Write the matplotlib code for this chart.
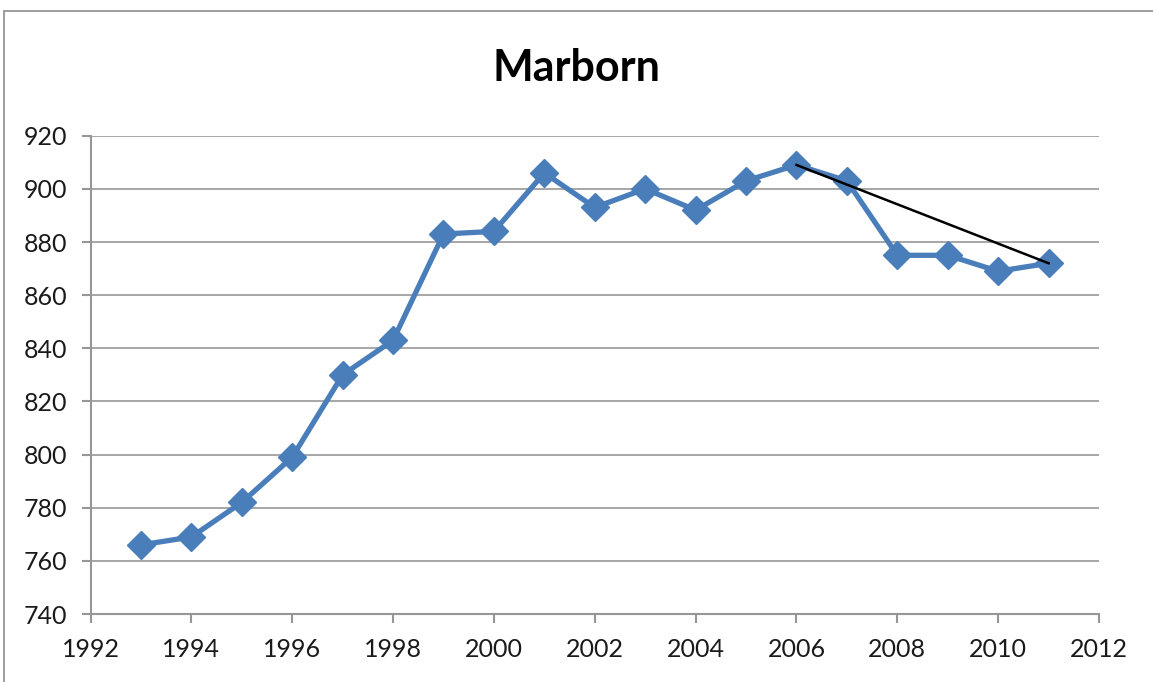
import matplotlib.pyplot as plt
import matplotlib.patches as mpatches

anos = [1993, 1994, 1995, 1996, 1997, 1998, 1999, 2000, 2001, 2002,
        2003, 2004, 2005, 2006, 2007, 2008, 2009, 2010, 2011]
valores = [766, 769, 782, 799, 830, 843, 883, 884, 906, 893,
           900, 892, 903, 909, 903, 875, 875, 869, 872]

# linha de tendência desenhada à mão (2006 -> 2011)
tendencia_x = [2006, 2011]
tendencia_y = [909, 872]

x_ticks = list(range(1992, 2013, 2))
y_ticks = list(range(740, 921, 20))

plt.rcParams['font.family'] = ['Lato', 'DejaVu Sans']

fig = plt.figure(figsize=(11.53, 6.82), dpi=100)
ax = fig.add_axes([0.0785, 0.0997, 0.8747, 0.7013])

# moldura externa (estilo Excel)
fig.patches.append(mpatches.Rectangle((4 / 1153, -0.01), 1.02, 1 - 11 / 682 + 0.01,
                                      transform=fig.transFigure, fill=False,
                                      edgecolor='#8c8c8c', linewidth=1.2))

ax.plot(anos, valores, color='#4a7ebb', linewidth=3.8,
        marker='D', markersize=14, markerfacecolor='#4a7ebb',
        markeredgecolor='#4a7ebb', zorder=3)
ax.plot(tendencia_x, tendencia_y, color='black', linewidth=1.8, zorder=4)

ax.set_xlim(1992, 2012)
ax.set_ylim(740, 920)
ax.set_xticks(x_ticks)
ax.set_yticks(y_ticks)

ax.grid(True, axis='y', color='#a6a6a6', linewidth=1.4)
ax.set_axisbelow(True)

for lado in ['top', 'right']:
    ax.spines[lado].set_visible(False)
for lado in ['left', 'bottom']:
    ax.spines[lado].set_color('#969696')
    ax.spines[lado].set_linewidth(1.5)

ax.tick_params(axis='both', colors='#969696', width=1.5, length=6.5,
               labelsize=18, labelcolor='#1a1a1a')
ax.tick_params(axis='y', pad=10)
ax.tick_params(axis='x', pad=11)

fig.text(0.5, 1 - 68 / 682, 'Marborn', ha='center', va='center',
         fontsize=31, fontweight='bold', color='black')

plt.savefig('out.png', dpi=100)
